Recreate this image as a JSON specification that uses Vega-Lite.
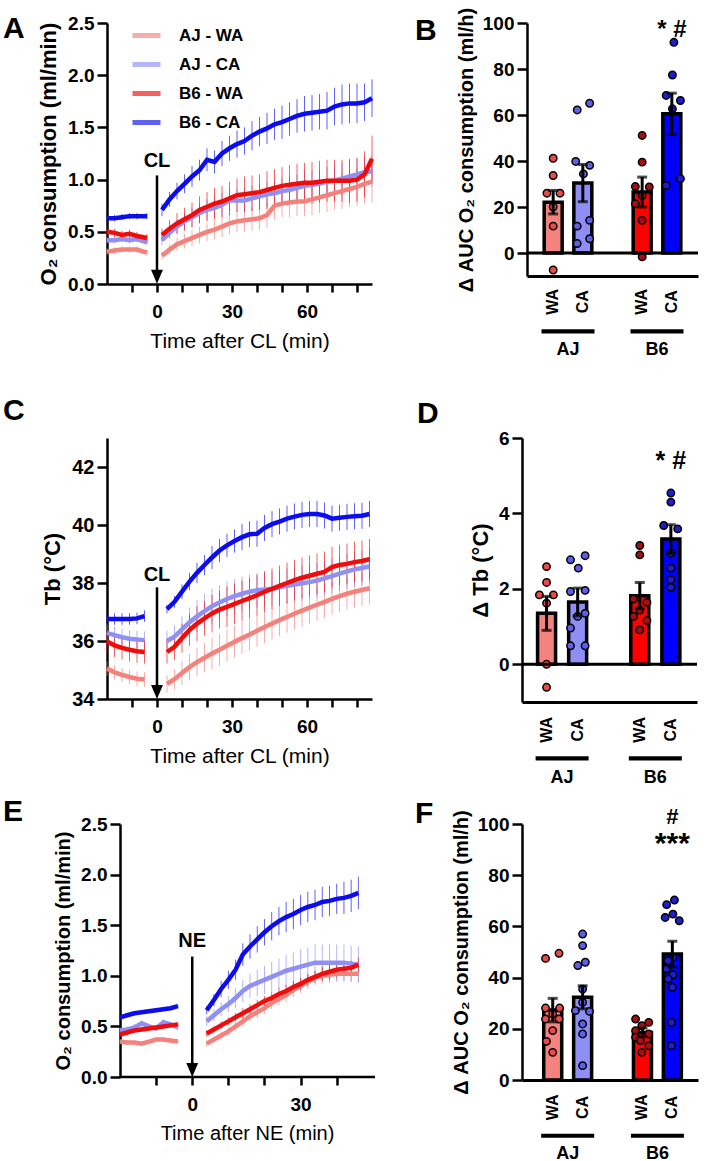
{
"$schema": "https://vega.github.io/schema/vega-lite/v6.json",
"padding": {"left": 3, "top": 7, "right": 0, "bottom": 0},
"datasets": {
"o2cl": [
{"series":"AJ - WA","seg":"pre","t":-20,"mean":0.31,"sem":0.03},{"series":"AJ - WA","seg":"pre","t":-17,"mean":0.32,"sem":0.03},{"series":"AJ - WA","seg":"pre","t":-14,"mean":0.33,"sem":0.03},{"series":"AJ - WA","seg":"pre","t":-11,"mean":0.33,"sem":0.03},{"series":"AJ - WA","seg":"pre","t":-8,"mean":0.33,"sem":0.03},{"series":"AJ - WA","seg":"pre","t":-4,"mean":0.30,"sem":0.03},
{"series":"AJ - WA","seg":"post","t":2,"mean":0.27,"sem":0.04},{"series":"AJ - WA","seg":"post","t":5,"mean":0.33,"sem":0.05},{"series":"AJ - WA","seg":"post","t":8,"mean":0.38,"sem":0.06},{"series":"AJ - WA","seg":"post","t":11,"mean":0.41,"sem":0.07},{"series":"AJ - WA","seg":"post","t":14,"mean":0.44,"sem":0.08},{"series":"AJ - WA","seg":"post","t":17,"mean":0.47,"sem":0.08},{"series":"AJ - WA","seg":"post","t":20,"mean":0.50,"sem":0.09},{"series":"AJ - WA","seg":"post","t":23,"mean":0.52,"sem":0.09},{"series":"AJ - WA","seg":"post","t":26,"mean":0.55,"sem":0.10},{"series":"AJ - WA","seg":"post","t":29,"mean":0.58,"sem":0.10},{"series":"AJ - WA","seg":"post","t":32,"mean":0.60,"sem":0.10},{"series":"AJ - WA","seg":"post","t":35,"mean":0.61,"sem":0.11},{"series":"AJ - WA","seg":"post","t":38,"mean":0.62,"sem":0.11},{"series":"AJ - WA","seg":"post","t":41,"mean":0.63,"sem":0.11},{"series":"AJ - WA","seg":"post","t":44,"mean":0.66,"sem":0.12},{"series":"AJ - WA","seg":"post","t":47,"mean":0.75,"sem":0.13},{"series":"AJ - WA","seg":"post","t":50,"mean":0.77,"sem":0.13},{"series":"AJ - WA","seg":"post","t":53,"mean":0.78,"sem":0.14},{"series":"AJ - WA","seg":"post","t":56,"mean":0.79,"sem":0.14},{"series":"AJ - WA","seg":"post","t":59,"mean":0.79,"sem":0.14},{"series":"AJ - WA","seg":"post","t":62,"mean":0.81,"sem":0.15},{"series":"AJ - WA","seg":"post","t":65,"mean":0.83,"sem":0.15},{"series":"AJ - WA","seg":"post","t":68,"mean":0.85,"sem":0.16},{"series":"AJ - WA","seg":"post","t":71,"mean":0.87,"sem":0.16},{"series":"AJ - WA","seg":"post","t":74,"mean":0.89,"sem":0.17},{"series":"AJ - WA","seg":"post","t":77,"mean":0.91,"sem":0.17},{"series":"AJ - WA","seg":"post","t":80,"mean":0.93,"sem":0.18},{"series":"AJ - WA","seg":"post","t":83,"mean":0.96,"sem":0.19},{"series":"AJ - WA","seg":"post","t":86,"mean":0.98,"sem":0.20},
{"series":"AJ - CA","seg":"pre","t":-20,"mean":0.42,"sem":0.03},{"series":"AJ - CA","seg":"pre","t":-17,"mean":0.42,"sem":0.03},{"series":"AJ - CA","seg":"pre","t":-14,"mean":0.43,"sem":0.03},{"series":"AJ - CA","seg":"pre","t":-11,"mean":0.42,"sem":0.03},{"series":"AJ - CA","seg":"pre","t":-8,"mean":0.43,"sem":0.03},{"series":"AJ - CA","seg":"pre","t":-4,"mean":0.40,"sem":0.03},
{"series":"AJ - CA","seg":"post","t":2,"mean":0.42,"sem":0.05},{"series":"AJ - CA","seg":"post","t":5,"mean":0.49,"sem":0.06},{"series":"AJ - CA","seg":"post","t":8,"mean":0.55,"sem":0.07},{"series":"AJ - CA","seg":"post","t":11,"mean":0.60,"sem":0.08},{"series":"AJ - CA","seg":"post","t":14,"mean":0.64,"sem":0.09},{"series":"AJ - CA","seg":"post","t":17,"mean":0.68,"sem":0.09},{"series":"AJ - CA","seg":"post","t":20,"mean":0.71,"sem":0.10},{"series":"AJ - CA","seg":"post","t":23,"mean":0.73,"sem":0.10},{"series":"AJ - CA","seg":"post","t":26,"mean":0.76,"sem":0.11},{"series":"AJ - CA","seg":"post","t":29,"mean":0.80,"sem":0.11},{"series":"AJ - CA","seg":"post","t":32,"mean":0.80,"sem":0.11},{"series":"AJ - CA","seg":"post","t":35,"mean":0.80,"sem":0.12},{"series":"AJ - CA","seg":"post","t":38,"mean":0.82,"sem":0.12},{"series":"AJ - CA","seg":"post","t":41,"mean":0.84,"sem":0.12},{"series":"AJ - CA","seg":"post","t":44,"mean":0.86,"sem":0.12},{"series":"AJ - CA","seg":"post","t":47,"mean":0.87,"sem":0.13},{"series":"AJ - CA","seg":"post","t":50,"mean":0.89,"sem":0.13},{"series":"AJ - CA","seg":"post","t":53,"mean":0.90,"sem":0.13},{"series":"AJ - CA","seg":"post","t":56,"mean":0.92,"sem":0.13},{"series":"AJ - CA","seg":"post","t":59,"mean":0.94,"sem":0.14},{"series":"AJ - CA","seg":"post","t":62,"mean":0.95,"sem":0.14},{"series":"AJ - CA","seg":"post","t":65,"mean":0.96,"sem":0.14},{"series":"AJ - CA","seg":"post","t":68,"mean":0.98,"sem":0.14},{"series":"AJ - CA","seg":"post","t":71,"mean":0.99,"sem":0.14},{"series":"AJ - CA","seg":"post","t":74,"mean":1.01,"sem":0.15},{"series":"AJ - CA","seg":"post","t":77,"mean":1.03,"sem":0.15},{"series":"AJ - CA","seg":"post","t":80,"mean":1.05,"sem":0.15},{"series":"AJ - CA","seg":"post","t":83,"mean":1.07,"sem":0.15},{"series":"AJ - CA","seg":"post","t":86,"mean":1.08,"sem":0.15},
{"series":"B6 - WA","seg":"pre","t":-20,"mean":0.50,"sem":0.04},{"series":"B6 - WA","seg":"pre","t":-17,"mean":0.49,"sem":0.04},{"series":"B6 - WA","seg":"pre","t":-14,"mean":0.47,"sem":0.04},{"series":"B6 - WA","seg":"pre","t":-11,"mean":0.48,"sem":0.04},{"series":"B6 - WA","seg":"pre","t":-8,"mean":0.46,"sem":0.04},{"series":"B6 - WA","seg":"pre","t":-4,"mean":0.44,"sem":0.04},
{"series":"B6 - WA","seg":"post","t":2,"mean":0.47,"sem":0.06},{"series":"B6 - WA","seg":"post","t":5,"mean":0.53,"sem":0.08},{"series":"B6 - WA","seg":"post","t":8,"mean":0.58,"sem":0.10},{"series":"B6 - WA","seg":"post","t":11,"mean":0.62,"sem":0.11},{"series":"B6 - WA","seg":"post","t":14,"mean":0.66,"sem":0.12},{"series":"B6 - WA","seg":"post","t":17,"mean":0.71,"sem":0.13},{"series":"B6 - WA","seg":"post","t":20,"mean":0.74,"sem":0.14},{"series":"B6 - WA","seg":"post","t":23,"mean":0.77,"sem":0.15},{"series":"B6 - WA","seg":"post","t":26,"mean":0.79,"sem":0.15},{"series":"B6 - WA","seg":"post","t":29,"mean":0.82,"sem":0.16},{"series":"B6 - WA","seg":"post","t":32,"mean":0.85,"sem":0.16},{"series":"B6 - WA","seg":"post","t":35,"mean":0.86,"sem":0.17},{"series":"B6 - WA","seg":"post","t":38,"mean":0.87,"sem":0.17},{"series":"B6 - WA","seg":"post","t":41,"mean":0.88,"sem":0.17},{"series":"B6 - WA","seg":"post","t":44,"mean":0.90,"sem":0.18},{"series":"B6 - WA","seg":"post","t":47,"mean":0.92,"sem":0.18},{"series":"B6 - WA","seg":"post","t":50,"mean":0.94,"sem":0.18},{"series":"B6 - WA","seg":"post","t":53,"mean":0.95,"sem":0.19},{"series":"B6 - WA","seg":"post","t":56,"mean":0.96,"sem":0.19},{"series":"B6 - WA","seg":"post","t":59,"mean":0.97,"sem":0.19},{"series":"B6 - WA","seg":"post","t":62,"mean":0.97,"sem":0.20},{"series":"B6 - WA","seg":"post","t":65,"mean":0.98,"sem":0.20},{"series":"B6 - WA","seg":"post","t":68,"mean":0.99,"sem":0.20},{"series":"B6 - WA","seg":"post","t":71,"mean":0.99,"sem":0.20},{"series":"B6 - WA","seg":"post","t":74,"mean":0.99,"sem":0.20},{"series":"B6 - WA","seg":"post","t":77,"mean":0.99,"sem":0.21},{"series":"B6 - WA","seg":"post","t":80,"mean":1.00,"sem":0.21},{"series":"B6 - WA","seg":"post","t":83,"mean":1.05,"sem":0.22},{"series":"B6 - WA","seg":"post","t":86,"mean":1.20,"sem":0.22},
{"series":"B6 - CA","seg":"pre","t":-20,"mean":0.63,"sem":0.03},{"series":"B6 - CA","seg":"pre","t":-17,"mean":0.63,"sem":0.03},{"series":"B6 - CA","seg":"pre","t":-14,"mean":0.64,"sem":0.03},{"series":"B6 - CA","seg":"pre","t":-11,"mean":0.65,"sem":0.03},{"series":"B6 - CA","seg":"pre","t":-8,"mean":0.65,"sem":0.03},{"series":"B6 - CA","seg":"pre","t":-4,"mean":0.65,"sem":0.03},
{"series":"B6 - CA","seg":"post","t":2,"mean":0.71,"sem":0.06},{"series":"B6 - CA","seg":"post","t":5,"mean":0.81,"sem":0.07},{"series":"B6 - CA","seg":"post","t":8,"mean":0.89,"sem":0.08},{"series":"B6 - CA","seg":"post","t":11,"mean":0.96,"sem":0.09},{"series":"B6 - CA","seg":"post","t":14,"mean":1.03,"sem":0.10},{"series":"B6 - CA","seg":"post","t":17,"mean":1.09,"sem":0.10},{"series":"B6 - CA","seg":"post","t":20,"mean":1.19,"sem":0.11},{"series":"B6 - CA","seg":"post","t":23,"mean":1.17,"sem":0.11},{"series":"B6 - CA","seg":"post","t":26,"mean":1.25,"sem":0.12},{"series":"B6 - CA","seg":"post","t":29,"mean":1.30,"sem":0.12},{"series":"B6 - CA","seg":"post","t":32,"mean":1.34,"sem":0.13},{"series":"B6 - CA","seg":"post","t":35,"mean":1.37,"sem":0.13},{"series":"B6 - CA","seg":"post","t":38,"mean":1.42,"sem":0.14},{"series":"B6 - CA","seg":"post","t":41,"mean":1.46,"sem":0.14},{"series":"B6 - CA","seg":"post","t":44,"mean":1.49,"sem":0.15},{"series":"B6 - CA","seg":"post","t":47,"mean":1.53,"sem":0.15},{"series":"B6 - CA","seg":"post","t":50,"mean":1.55,"sem":0.16},{"series":"B6 - CA","seg":"post","t":53,"mean":1.58,"sem":0.16},{"series":"B6 - CA","seg":"post","t":56,"mean":1.61,"sem":0.16},{"series":"B6 - CA","seg":"post","t":59,"mean":1.63,"sem":0.17},{"series":"B6 - CA","seg":"post","t":62,"mean":1.64,"sem":0.17},{"series":"B6 - CA","seg":"post","t":65,"mean":1.65,"sem":0.17},{"series":"B6 - CA","seg":"post","t":68,"mean":1.66,"sem":0.18},{"series":"B6 - CA","seg":"post","t":71,"mean":1.70,"sem":0.18},{"series":"B6 - CA","seg":"post","t":74,"mean":1.72,"sem":0.19},{"series":"B6 - CA","seg":"post","t":77,"mean":1.73,"sem":0.19},{"series":"B6 - CA","seg":"post","t":80,"mean":1.73,"sem":0.19},{"series":"B6 - CA","seg":"post","t":83,"mean":1.74,"sem":0.18},{"series":"B6 - CA","seg":"post","t":86,"mean":1.78,"sem":0.18}
],
"tbcl": [
{"series":"AJ - WA","seg":"pre","t":-20,"mean":35.05,"sem":0.25},{"series":"AJ - WA","seg":"pre","t":-17,"mean":34.92,"sem":0.25},{"series":"AJ - WA","seg":"pre","t":-14,"mean":34.83,"sem":0.25},{"series":"AJ - WA","seg":"pre","t":-11,"mean":34.76,"sem":0.25},{"series":"AJ - WA","seg":"pre","t":-8,"mean":34.70,"sem":0.25},{"series":"AJ - WA","seg":"pre","t":-5,"mean":34.67,"sem":0.25},
{"series":"AJ - WA","seg":"post","t":4,"mean":34.52,"sem":0.30},{"series":"AJ - WA","seg":"post","t":7,"mean":34.68,"sem":0.35},{"series":"AJ - WA","seg":"post","t":10,"mean":34.90,"sem":0.40},{"series":"AJ - WA","seg":"post","t":13,"mean":35.10,"sem":0.45},{"series":"AJ - WA","seg":"post","t":16,"mean":35.27,"sem":0.50},{"series":"AJ - WA","seg":"post","t":19,"mean":35.42,"sem":0.50},{"series":"AJ - WA","seg":"post","t":22,"mean":35.57,"sem":0.55},{"series":"AJ - WA","seg":"post","t":25,"mean":35.70,"sem":0.55},{"series":"AJ - WA","seg":"post","t":28,"mean":35.84,"sem":0.55},{"series":"AJ - WA","seg":"post","t":31,"mean":35.97,"sem":0.55},{"series":"AJ - WA","seg":"post","t":34,"mean":36.10,"sem":0.55},{"series":"AJ - WA","seg":"post","t":37,"mean":36.22,"sem":0.55},{"series":"AJ - WA","seg":"post","t":40,"mean":36.35,"sem":0.55},{"series":"AJ - WA","seg":"post","t":43,"mean":36.48,"sem":0.55},{"series":"AJ - WA","seg":"post","t":46,"mean":36.60,"sem":0.55},{"series":"AJ - WA","seg":"post","t":49,"mean":36.72,"sem":0.55},{"series":"AJ - WA","seg":"post","t":52,"mean":36.83,"sem":0.55},{"series":"AJ - WA","seg":"post","t":55,"mean":36.95,"sem":0.55},{"series":"AJ - WA","seg":"post","t":58,"mean":37.05,"sem":0.55},{"series":"AJ - WA","seg":"post","t":61,"mean":37.15,"sem":0.55},{"series":"AJ - WA","seg":"post","t":64,"mean":37.25,"sem":0.55},{"series":"AJ - WA","seg":"post","t":67,"mean":37.35,"sem":0.55},{"series":"AJ - WA","seg":"post","t":70,"mean":37.45,"sem":0.55},{"series":"AJ - WA","seg":"post","t":73,"mean":37.55,"sem":0.55},{"series":"AJ - WA","seg":"post","t":76,"mean":37.63,"sem":0.55},{"series":"AJ - WA","seg":"post","t":79,"mean":37.70,"sem":0.55},{"series":"AJ - WA","seg":"post","t":82,"mean":37.76,"sem":0.55},{"series":"AJ - WA","seg":"post","t":85,"mean":37.82,"sem":0.55},
{"series":"AJ - CA","seg":"pre","t":-20,"mean":36.28,"sem":0.3},{"series":"AJ - CA","seg":"pre","t":-17,"mean":36.20,"sem":0.3},{"series":"AJ - CA","seg":"pre","t":-14,"mean":36.13,"sem":0.3},{"series":"AJ - CA","seg":"pre","t":-11,"mean":36.08,"sem":0.3},{"series":"AJ - CA","seg":"pre","t":-8,"mean":36.05,"sem":0.3},{"series":"AJ - CA","seg":"pre","t":-5,"mean":36.03,"sem":0.3},
{"series":"AJ - CA","seg":"post","t":4,"mean":36.00,"sem":0.35},{"series":"AJ - CA","seg":"post","t":7,"mean":36.15,"sem":0.40},{"series":"AJ - CA","seg":"post","t":10,"mean":36.40,"sem":0.45},{"series":"AJ - CA","seg":"post","t":13,"mean":36.65,"sem":0.50},{"series":"AJ - CA","seg":"post","t":16,"mean":36.85,"sem":0.55},{"series":"AJ - CA","seg":"post","t":19,"mean":37.03,"sem":0.60},{"series":"AJ - CA","seg":"post","t":22,"mean":37.20,"sem":0.60},{"series":"AJ - CA","seg":"post","t":25,"mean":37.33,"sem":0.60},{"series":"AJ - CA","seg":"post","t":28,"mean":37.45,"sem":0.60},{"series":"AJ - CA","seg":"post","t":31,"mean":37.55,"sem":0.60},{"series":"AJ - CA","seg":"post","t":34,"mean":37.63,"sem":0.60},{"series":"AJ - CA","seg":"post","t":37,"mean":37.70,"sem":0.60},{"series":"AJ - CA","seg":"post","t":40,"mean":37.75,"sem":0.60},{"series":"AJ - CA","seg":"post","t":43,"mean":37.78,"sem":0.60},{"series":"AJ - CA","seg":"post","t":46,"mean":37.80,"sem":0.60},{"series":"AJ - CA","seg":"post","t":49,"mean":37.85,"sem":0.60},{"series":"AJ - CA","seg":"post","t":52,"mean":37.90,"sem":0.60},{"series":"AJ - CA","seg":"post","t":55,"mean":37.95,"sem":0.60},{"series":"AJ - CA","seg":"post","t":58,"mean":37.99,"sem":0.60},{"series":"AJ - CA","seg":"post","t":61,"mean":38.03,"sem":0.60},{"series":"AJ - CA","seg":"post","t":64,"mean":38.08,"sem":0.60},{"series":"AJ - CA","seg":"post","t":67,"mean":38.16,"sem":0.60},{"series":"AJ - CA","seg":"post","t":70,"mean":38.24,"sem":0.60},{"series":"AJ - CA","seg":"post","t":73,"mean":38.32,"sem":0.60},{"series":"AJ - CA","seg":"post","t":76,"mean":38.40,"sem":0.60},{"series":"AJ - CA","seg":"post","t":79,"mean":38.47,"sem":0.60},{"series":"AJ - CA","seg":"post","t":82,"mean":38.52,"sem":0.60},{"series":"AJ - CA","seg":"post","t":85,"mean":38.57,"sem":0.60},
{"series":"B6 - WA","seg":"pre","t":-20,"mean":35.98,"sem":0.4},{"series":"B6 - WA","seg":"pre","t":-17,"mean":35.85,"sem":0.4},{"series":"B6 - WA","seg":"pre","t":-14,"mean":35.76,"sem":0.4},{"series":"B6 - WA","seg":"pre","t":-11,"mean":35.70,"sem":0.4},{"series":"B6 - WA","seg":"pre","t":-8,"mean":35.65,"sem":0.4},{"series":"B6 - WA","seg":"pre","t":-5,"mean":35.62,"sem":0.4},
{"series":"B6 - WA","seg":"post","t":4,"mean":35.62,"sem":0.40},{"series":"B6 - WA","seg":"post","t":7,"mean":35.80,"sem":0.45},{"series":"B6 - WA","seg":"post","t":10,"mean":36.10,"sem":0.50},{"series":"B6 - WA","seg":"post","t":13,"mean":36.38,"sem":0.55},{"series":"B6 - WA","seg":"post","t":16,"mean":36.60,"sem":0.60},{"series":"B6 - WA","seg":"post","t":19,"mean":36.78,"sem":0.60},{"series":"B6 - WA","seg":"post","t":22,"mean":36.95,"sem":0.65},{"series":"B6 - WA","seg":"post","t":25,"mean":37.08,"sem":0.65},{"series":"B6 - WA","seg":"post","t":28,"mean":37.18,"sem":0.70},{"series":"B6 - WA","seg":"post","t":31,"mean":37.28,"sem":0.70},{"series":"B6 - WA","seg":"post","t":34,"mean":37.38,"sem":0.70},{"series":"B6 - WA","seg":"post","t":37,"mean":37.48,"sem":0.70},{"series":"B6 - WA","seg":"post","t":40,"mean":37.58,"sem":0.70},{"series":"B6 - WA","seg":"post","t":43,"mean":37.70,"sem":0.70},{"series":"B6 - WA","seg":"post","t":46,"mean":37.80,"sem":0.70},{"series":"B6 - WA","seg":"post","t":49,"mean":37.90,"sem":0.70},{"series":"B6 - WA","seg":"post","t":52,"mean":38.00,"sem":0.70},{"series":"B6 - WA","seg":"post","t":55,"mean":38.10,"sem":0.70},{"series":"B6 - WA","seg":"post","t":58,"mean":38.18,"sem":0.70},{"series":"B6 - WA","seg":"post","t":61,"mean":38.25,"sem":0.70},{"series":"B6 - WA","seg":"post","t":64,"mean":38.32,"sem":0.70},{"series":"B6 - WA","seg":"post","t":67,"mean":38.38,"sem":0.70},{"series":"B6 - WA","seg":"post","t":70,"mean":38.55,"sem":0.70},{"series":"B6 - WA","seg":"post","t":73,"mean":38.62,"sem":0.70},{"series":"B6 - WA","seg":"post","t":76,"mean":38.66,"sem":0.70},{"series":"B6 - WA","seg":"post","t":79,"mean":38.72,"sem":0.70},{"series":"B6 - WA","seg":"post","t":82,"mean":38.76,"sem":0.70},{"series":"B6 - WA","seg":"post","t":85,"mean":38.82,"sem":0.70},
{"series":"B6 - CA","seg":"pre","t":-20,"mean":36.76,"sem":0.2},{"series":"B6 - CA","seg":"pre","t":-17,"mean":36.76,"sem":0.2},{"series":"B6 - CA","seg":"pre","t":-14,"mean":36.76,"sem":0.2},{"series":"B6 - CA","seg":"pre","t":-11,"mean":36.76,"sem":0.2},{"series":"B6 - CA","seg":"pre","t":-8,"mean":36.78,"sem":0.2},{"series":"B6 - CA","seg":"pre","t":-5,"mean":36.86,"sem":0.2},
{"series":"B6 - CA","seg":"post","t":4,"mean":37.10,"sem":0.15},{"series":"B6 - CA","seg":"post","t":7,"mean":37.35,"sem":0.20},{"series":"B6 - CA","seg":"post","t":10,"mean":37.70,"sem":0.25},{"series":"B6 - CA","seg":"post","t":13,"mean":38.05,"sem":0.30},{"series":"B6 - CA","seg":"post","t":16,"mean":38.35,"sem":0.35},{"series":"B6 - CA","seg":"post","t":19,"mean":38.62,"sem":0.35},{"series":"B6 - CA","seg":"post","t":22,"mean":38.88,"sem":0.40},{"series":"B6 - CA","seg":"post","t":25,"mean":39.12,"sem":0.40},{"series":"B6 - CA","seg":"post","t":28,"mean":39.30,"sem":0.40},{"series":"B6 - CA","seg":"post","t":31,"mean":39.45,"sem":0.40},{"series":"B6 - CA","seg":"post","t":34,"mean":39.58,"sem":0.45},{"series":"B6 - CA","seg":"post","t":37,"mean":39.68,"sem":0.45},{"series":"B6 - CA","seg":"post","t":40,"mean":39.70,"sem":0.45},{"series":"B6 - CA","seg":"post","t":43,"mean":39.90,"sem":0.45},{"series":"B6 - CA","seg":"post","t":46,"mean":40.03,"sem":0.45},{"series":"B6 - CA","seg":"post","t":49,"mean":40.12,"sem":0.45},{"series":"B6 - CA","seg":"post","t":52,"mean":40.22,"sem":0.45},{"series":"B6 - CA","seg":"post","t":55,"mean":40.29,"sem":0.45},{"series":"B6 - CA","seg":"post","t":58,"mean":40.35,"sem":0.45},{"series":"B6 - CA","seg":"post","t":61,"mean":40.38,"sem":0.45},{"series":"B6 - CA","seg":"post","t":64,"mean":40.38,"sem":0.45},{"series":"B6 - CA","seg":"post","t":67,"mean":40.33,"sem":0.45},{"series":"B6 - CA","seg":"post","t":70,"mean":40.22,"sem":0.45},{"series":"B6 - CA","seg":"post","t":73,"mean":40.25,"sem":0.45},{"series":"B6 - CA","seg":"post","t":76,"mean":40.28,"sem":0.45},{"series":"B6 - CA","seg":"post","t":79,"mean":40.30,"sem":0.45},{"series":"B6 - CA","seg":"post","t":82,"mean":40.32,"sem":0.45},{"series":"B6 - CA","seg":"post","t":85,"mean":40.38,"sem":0.45}
],
"o2ne": [
{"series":"AJ - WA","seg":"pre","t":-20,"mean":0.35,"sem":0.02},{"series":"AJ - WA","seg":"pre","t":-18,"mean":0.34,"sem":0.02},{"series":"AJ - WA","seg":"pre","t":-16,"mean":0.34,"sem":0.02},{"series":"AJ - WA","seg":"pre","t":-14,"mean":0.33,"sem":0.02},{"series":"AJ - WA","seg":"pre","t":-12,"mean":0.35,"sem":0.02},{"series":"AJ - WA","seg":"pre","t":-10,"mean":0.37,"sem":0.02},{"series":"AJ - WA","seg":"pre","t":-8,"mean":0.37,"sem":0.02},{"series":"AJ - WA","seg":"pre","t":-6,"mean":0.36,"sem":0.02},{"series":"AJ - WA","seg":"pre","t":-4,"mean":0.35,"sem":0.02},
{"series":"AJ - WA","seg":"post","t":4,"mean":0.33,"sem":0.03},{"series":"AJ - WA","seg":"post","t":6,"mean":0.37,"sem":0.03},{"series":"AJ - WA","seg":"post","t":8,"mean":0.41,"sem":0.04},{"series":"AJ - WA","seg":"post","t":10,"mean":0.45,"sem":0.04},{"series":"AJ - WA","seg":"post","t":12,"mean":0.50,"sem":0.05},{"series":"AJ - WA","seg":"post","t":14,"mean":0.55,"sem":0.05},{"series":"AJ - WA","seg":"post","t":16,"mean":0.60,"sem":0.05},{"series":"AJ - WA","seg":"post","t":18,"mean":0.64,"sem":0.06},{"series":"AJ - WA","seg":"post","t":20,"mean":0.68,"sem":0.06},{"series":"AJ - WA","seg":"post","t":22,"mean":0.73,"sem":0.06},{"series":"AJ - WA","seg":"post","t":24,"mean":0.77,"sem":0.06},{"series":"AJ - WA","seg":"post","t":26,"mean":0.81,"sem":0.07},{"series":"AJ - WA","seg":"post","t":28,"mean":0.86,"sem":0.07},{"series":"AJ - WA","seg":"post","t":30,"mean":0.90,"sem":0.07},{"series":"AJ - WA","seg":"post","t":32,"mean":0.94,"sem":0.07},{"series":"AJ - WA","seg":"post","t":34,"mean":0.98,"sem":0.07},{"series":"AJ - WA","seg":"post","t":36,"mean":1.00,"sem":0.08},{"series":"AJ - WA","seg":"post","t":38,"mean":1.01,"sem":0.08},{"series":"AJ - WA","seg":"post","t":40,"mean":1.02,"sem":0.08},{"series":"AJ - WA","seg":"post","t":42,"mean":1.02,"sem":0.08},{"series":"AJ - WA","seg":"post","t":44,"mean":1.02,"sem":0.08},{"series":"AJ - WA","seg":"post","t":46,"mean":1.02,"sem":0.08},
{"series":"AJ - CA","seg":"pre","t":-20,"mean":0.46,"sem":0.03},{"series":"AJ - CA","seg":"pre","t":-18,"mean":0.47,"sem":0.03},{"series":"AJ - CA","seg":"pre","t":-16,"mean":0.49,"sem":0.03},{"series":"AJ - CA","seg":"pre","t":-14,"mean":0.53,"sem":0.03},{"series":"AJ - CA","seg":"pre","t":-12,"mean":0.50,"sem":0.03},{"series":"AJ - CA","seg":"pre","t":-10,"mean":0.48,"sem":0.03},{"series":"AJ - CA","seg":"pre","t":-8,"mean":0.54,"sem":0.03},{"series":"AJ - CA","seg":"pre","t":-6,"mean":0.52,"sem":0.03},{"series":"AJ - CA","seg":"pre","t":-4,"mean":0.49,"sem":0.03},
{"series":"AJ - CA","seg":"post","t":4,"mean":0.55,"sem":0.05},{"series":"AJ - CA","seg":"post","t":6,"mean":0.61,"sem":0.06},{"series":"AJ - CA","seg":"post","t":8,"mean":0.67,"sem":0.07},{"series":"AJ - CA","seg":"post","t":10,"mean":0.72,"sem":0.08},{"series":"AJ - CA","seg":"post","t":12,"mean":0.78,"sem":0.10},{"series":"AJ - CA","seg":"post","t":14,"mean":0.85,"sem":0.11},{"series":"AJ - CA","seg":"post","t":16,"mean":0.90,"sem":0.12},{"series":"AJ - CA","seg":"post","t":18,"mean":0.93,"sem":0.13},{"series":"AJ - CA","seg":"post","t":20,"mean":0.96,"sem":0.14},{"series":"AJ - CA","seg":"post","t":22,"mean":0.99,"sem":0.15},{"series":"AJ - CA","seg":"post","t":24,"mean":1.02,"sem":0.15},{"series":"AJ - CA","seg":"post","t":26,"mean":1.05,"sem":0.16},{"series":"AJ - CA","seg":"post","t":28,"mean":1.07,"sem":0.16},{"series":"AJ - CA","seg":"post","t":30,"mean":1.09,"sem":0.17},{"series":"AJ - CA","seg":"post","t":32,"mean":1.11,"sem":0.17},{"series":"AJ - CA","seg":"post","t":34,"mean":1.13,"sem":0.18},{"series":"AJ - CA","seg":"post","t":36,"mean":1.13,"sem":0.18},{"series":"AJ - CA","seg":"post","t":38,"mean":1.13,"sem":0.18},{"series":"AJ - CA","seg":"post","t":40,"mean":1.13,"sem":0.18},{"series":"AJ - CA","seg":"post","t":42,"mean":1.13,"sem":0.18},{"series":"AJ - CA","seg":"post","t":44,"mean":1.12,"sem":0.18},{"series":"AJ - CA","seg":"post","t":46,"mean":1.11,"sem":0.18},
{"series":"B6 - WA","seg":"pre","t":-20,"mean":0.42,"sem":0.02},{"series":"B6 - WA","seg":"pre","t":-18,"mean":0.44,"sem":0.02},{"series":"B6 - WA","seg":"pre","t":-16,"mean":0.46,"sem":0.02},{"series":"B6 - WA","seg":"pre","t":-14,"mean":0.47,"sem":0.02},{"series":"B6 - WA","seg":"pre","t":-12,"mean":0.48,"sem":0.02},{"series":"B6 - WA","seg":"pre","t":-10,"mean":0.49,"sem":0.02},{"series":"B6 - WA","seg":"pre","t":-8,"mean":0.50,"sem":0.02},{"series":"B6 - WA","seg":"pre","t":-6,"mean":0.51,"sem":0.02},{"series":"B6 - WA","seg":"pre","t":-4,"mean":0.52,"sem":0.02},
{"series":"B6 - WA","seg":"post","t":4,"mean":0.43,"sem":0.03},{"series":"B6 - WA","seg":"post","t":6,"mean":0.47,"sem":0.03},{"series":"B6 - WA","seg":"post","t":8,"mean":0.51,"sem":0.04},{"series":"B6 - WA","seg":"post","t":10,"mean":0.55,"sem":0.04},{"series":"B6 - WA","seg":"post","t":12,"mean":0.59,"sem":0.04},{"series":"B6 - WA","seg":"post","t":14,"mean":0.63,"sem":0.05},{"series":"B6 - WA","seg":"post","t":16,"mean":0.67,"sem":0.05},{"series":"B6 - WA","seg":"post","t":18,"mean":0.71,"sem":0.05},{"series":"B6 - WA","seg":"post","t":20,"mean":0.75,"sem":0.05},{"series":"B6 - WA","seg":"post","t":22,"mean":0.78,"sem":0.06},{"series":"B6 - WA","seg":"post","t":24,"mean":0.82,"sem":0.06},{"series":"B6 - WA","seg":"post","t":26,"mean":0.85,"sem":0.06},{"series":"B6 - WA","seg":"post","t":28,"mean":0.89,"sem":0.06},{"series":"B6 - WA","seg":"post","t":30,"mean":0.92,"sem":0.06},{"series":"B6 - WA","seg":"post","t":32,"mean":0.96,"sem":0.06},{"series":"B6 - WA","seg":"post","t":34,"mean":0.99,"sem":0.06},{"series":"B6 - WA","seg":"post","t":36,"mean":1.02,"sem":0.07},{"series":"B6 - WA","seg":"post","t":38,"mean":1.04,"sem":0.07},{"series":"B6 - WA","seg":"post","t":40,"mean":1.06,"sem":0.07},{"series":"B6 - WA","seg":"post","t":42,"mean":1.07,"sem":0.07},{"series":"B6 - WA","seg":"post","t":44,"mean":1.08,"sem":0.07},{"series":"B6 - WA","seg":"post","t":46,"mean":1.11,"sem":0.07},
{"series":"B6 - CA","seg":"pre","t":-20,"mean":0.59,"sem":0.02},{"series":"B6 - CA","seg":"pre","t":-18,"mean":0.61,"sem":0.02},{"series":"B6 - CA","seg":"pre","t":-16,"mean":0.63,"sem":0.02},{"series":"B6 - CA","seg":"pre","t":-14,"mean":0.64,"sem":0.02},{"series":"B6 - CA","seg":"pre","t":-12,"mean":0.65,"sem":0.02},{"series":"B6 - CA","seg":"pre","t":-10,"mean":0.66,"sem":0.02},{"series":"B6 - CA","seg":"pre","t":-8,"mean":0.67,"sem":0.02},{"series":"B6 - CA","seg":"pre","t":-6,"mean":0.68,"sem":0.02},{"series":"B6 - CA","seg":"pre","t":-4,"mean":0.70,"sem":0.02},
{"series":"B6 - CA","seg":"post","t":4,"mean":0.66,"sem":0.04},{"series":"B6 - CA","seg":"post","t":6,"mean":0.76,"sem":0.06},{"series":"B6 - CA","seg":"post","t":8,"mean":0.87,"sem":0.08},{"series":"B6 - CA","seg":"post","t":10,"mean":0.96,"sem":0.09},{"series":"B6 - CA","seg":"post","t":12,"mean":1.06,"sem":0.10},{"series":"B6 - CA","seg":"post","t":14,"mean":1.21,"sem":0.11},{"series":"B6 - CA","seg":"post","t":16,"mean":1.29,"sem":0.12},{"series":"B6 - CA","seg":"post","t":18,"mean":1.36,"sem":0.13},{"series":"B6 - CA","seg":"post","t":20,"mean":1.43,"sem":0.13},{"series":"B6 - CA","seg":"post","t":22,"mean":1.49,"sem":0.14},{"series":"B6 - CA","seg":"post","t":24,"mean":1.54,"sem":0.14},{"series":"B6 - CA","seg":"post","t":26,"mean":1.58,"sem":0.15},{"series":"B6 - CA","seg":"post","t":28,"mean":1.61,"sem":0.15},{"series":"B6 - CA","seg":"post","t":30,"mean":1.65,"sem":0.15},{"series":"B6 - CA","seg":"post","t":32,"mean":1.68,"sem":0.15},{"series":"B6 - CA","seg":"post","t":34,"mean":1.70,"sem":0.15},{"series":"B6 - CA","seg":"post","t":36,"mean":1.73,"sem":0.15},{"series":"B6 - CA","seg":"post","t":38,"mean":1.74,"sem":0.15},{"series":"B6 - CA","seg":"post","t":40,"mean":1.76,"sem":0.15},{"series":"B6 - CA","seg":"post","t":42,"mean":1.77,"sem":0.16},{"series":"B6 - CA","seg":"post","t":44,"mean":1.79,"sem":0.16},{"series":"B6 - CA","seg":"post","t":46,"mean":1.82,"sem":0.16}
],
"barsB": [
{"strain":"AJ","cond":"WA","group":"AJ - WA","pos":1,"mean":22.1,"sem":5.1,"sig":""},
{"strain":"AJ","cond":"CA","group":"AJ - CA","pos":2,"mean":30.4,"sem":8.1,"sig":""},
{"strain":"B6","cond":"WA","group":"B6 - WA","pos":4,"mean":26.5,"sem":6.5,"sig":""},
{"strain":"B6","cond":"CA","group":"B6 - CA","pos":5,"mean":60.5,"sem":9.0,"sig":"* #"}
],
"dotsB": [
{"group":"AJ - WA","x":1.0,"value":41.2},{"group":"AJ - WA","x":1.0,"value":33.7},{"group":"AJ - WA","x":0.79,"value":26},{"group":"AJ - WA","x":1.23,"value":26},{"group":"AJ - WA","x":1.0,"value":20},{"group":"AJ - WA","x":1.0,"value":11.7},{"group":"AJ - WA","x":1.0,"value":-7.4},
{"group":"AJ - CA","x":1.81,"value":62.2},{"group":"AJ - CA","x":2.23,"value":65.1},{"group":"AJ - CA","x":1.76,"value":39.8},{"group":"AJ - CA","x":2.23,"value":38.1},{"group":"AJ - CA","x":2.02,"value":34.4},{"group":"AJ - CA","x":2.23,"value":14.2},{"group":"AJ - CA","x":1.81,"value":11.7},{"group":"AJ - CA","x":2.23,"value":6.2},{"group":"AJ - CA","x":1.81,"value":4.1},
{"group":"B6 - WA","x":4.0,"value":51.1},{"group":"B6 - WA","x":4.0,"value":39.5},{"group":"B6 - WA","x":3.77,"value":28.9},{"group":"B6 - WA","x":4.24,"value":28.7},{"group":"B6 - WA","x":4.0,"value":25},{"group":"B6 - WA","x":3.77,"value":21.4},{"group":"B6 - WA","x":4.0,"value":14.2},{"group":"B6 - WA","x":4.0,"value":-1.7},
{"group":"B6 - CA","x":5.07,"value":91.6},{"group":"B6 - CA","x":5.02,"value":77.4},{"group":"B6 - CA","x":4.81,"value":68.5},{"group":"B6 - CA","x":5.29,"value":66.3},{"group":"B6 - CA","x":5.02,"value":62.7},{"group":"B6 - CA","x":4.81,"value":29.4},{"group":"B6 - CA","x":5.29,"value":32.3}
],
"barsD": [
{"strain":"AJ","cond":"WA","group":"AJ - WA","pos":1,"mean":1.35,"sem":0.45,"sig":""},
{"strain":"AJ","cond":"CA","group":"AJ - CA","pos":2,"mean":1.65,"sem":0.37,"sig":""},
{"strain":"B6","cond":"WA","group":"B6 - WA","pos":4,"mean":1.82,"sem":0.35,"sig":""},
{"strain":"B6","cond":"CA","group":"B6 - CA","pos":5,"mean":3.32,"sem":0.38,"sig":"* #"}
],
"dotsD": [
{"group":"AJ - WA","x":1.0,"value":2.59},{"group":"AJ - WA","x":1.0,"value":2.17},{"group":"AJ - WA","x":0.77,"value":1.84},{"group":"AJ - WA","x":1.22,"value":1.84},{"group":"AJ - WA","x":1.0,"value":1.62},{"group":"AJ - WA","x":1.0,"value":0.0},{"group":"AJ - WA","x":1.0,"value":-0.61},
{"group":"AJ - CA","x":1.77,"value":2.77},{"group":"AJ - CA","x":2.02,"value":2.55},{"group":"AJ - CA","x":2.24,"value":2.88},{"group":"AJ - CA","x":1.77,"value":1.93},{"group":"AJ - CA","x":2.24,"value":1.96},{"group":"AJ - CA","x":2.0,"value":1.27},{"group":"AJ - CA","x":1.77,"value":0.96},{"group":"AJ - CA","x":2.24,"value":1.35},{"group":"AJ - CA","x":1.77,"value":0.49},{"group":"AJ - CA","x":2.24,"value":0.49},
{"group":"B6 - WA","x":4.0,"value":3.15},{"group":"B6 - WA","x":4.0,"value":2.90},{"group":"B6 - WA","x":3.8,"value":1.73},{"group":"B6 - WA","x":4.23,"value":1.64},{"group":"B6 - WA","x":4.0,"value":1.44},{"group":"B6 - WA","x":4.23,"value":1.16},{"group":"B6 - WA","x":4.0,"value":0.91},{"group":"B6 - WA","x":3.8,"value":1.27},
{"group":"B6 - CA","x":5.0,"value":4.54},{"group":"B6 - CA","x":5.0,"value":4.30},{"group":"B6 - CA","x":4.77,"value":3.68},{"group":"B6 - CA","x":5.22,"value":3.59},{"group":"B6 - CA","x":5.0,"value":2.95},{"group":"B6 - CA","x":5.0,"value":2.55},{"group":"B6 - CA","x":5.0,"value":2.24},{"group":"B6 - CA","x":5.0,"value":2.04}
],
"barsF": [
{"strain":"AJ","cond":"WA","group":"AJ - WA","pos":1,"mean":27.3,"sem":4.6,"sig":"","sig2":""},
{"strain":"AJ","cond":"CA","group":"AJ - CA","pos":2,"mean":32.3,"sem":4.5,"sig":"","sig2":""},
{"strain":"B6","cond":"WA","group":"B6 - WA","pos":4,"mean":18.6,"sem":1.7,"sig":"","sig2":""},
{"strain":"B6","cond":"CA","group":"B6 - CA","pos":5,"mean":49.2,"sem":5.0,"sig":"#","sig2":"***"}
],
"dotsF": [
{"group":"AJ - WA","x":0.76,"value":47.5},{"group":"AJ - WA","x":1.21,"value":49.5},{"group":"AJ - WA","x":0.76,"value":28.1},{"group":"AJ - WA","x":1.23,"value":28.1},{"group":"AJ - WA","x":1.0,"value":25.8},{"group":"AJ - WA","x":0.76,"value":23.8},{"group":"AJ - WA","x":1.21,"value":23.8},{"group":"AJ - WA","x":1.0,"value":19.3},{"group":"AJ - WA","x":0.79,"value":15.1},{"group":"AJ - WA","x":1.0,"value":10.8},
{"group":"AJ - CA","x":2.0,"value":57.0},{"group":"AJ - CA","x":2.0,"value":52.5},{"group":"AJ - CA","x":2.09,"value":46.0},{"group":"AJ - CA","x":1.84,"value":44.7},{"group":"AJ - CA","x":2.0,"value":35.5},{"group":"AJ - CA","x":2.0,"value":30.3},{"group":"AJ - CA","x":1.76,"value":27.1},{"group":"AJ - CA","x":2.23,"value":26.8},{"group":"AJ - CA","x":2.0,"value":21.9},{"group":"AJ - CA","x":2.0,"value":18.0},{"group":"AJ - CA","x":2.0,"value":5.6},
{"group":"B6 - WA","x":3.77,"value":23.8},{"group":"B6 - WA","x":4.21,"value":22.5},{"group":"B6 - WA","x":3.98,"value":21.2},{"group":"B6 - WA","x":3.77,"value":19.3},{"group":"B6 - WA","x":4.21,"value":18.0},{"group":"B6 - WA","x":3.77,"value":16.7},{"group":"B6 - WA","x":3.93,"value":15.4},{"group":"B6 - WA","x":4.21,"value":13.4},{"group":"B6 - WA","x":3.98,"value":10.8},
{"group":"B6 - CA","x":5.07,"value":70.3},{"group":"B6 - CA","x":4.81,"value":68.5},{"group":"B6 - CA","x":4.76,"value":63.5},{"group":"B6 - CA","x":5.02,"value":64.8},{"group":"B6 - CA","x":5.23,"value":62.2},{"group":"B6 - CA","x":5.02,"value":47.9},{"group":"B6 - CA","x":4.86,"value":46.6},{"group":"B6 - CA","x":4.81,"value":43.4},{"group":"B6 - CA","x":5.02,"value":41.1},{"group":"B6 - CA","x":4.86,"value":39.5},{"group":"B6 - CA","x":5.0,"value":36.2},{"group":"B6 - CA","x":4.97,"value":22.5},{"group":"B6 - CA","x":4.97,"value":13.4}
]
},
"spacing": 36,
"vconcat": [
{"hconcat": [
 {"width": 265, "height": 261,
  "title": {"text": "A", "dx": -104, "dy": 34},
  "layer": [
   {"data": {"name": "o2cl"}, "mark": {"type": "errorbar", "thickness": 1, "opacity": 0.65},
    "encoding": {
     "x": {"field": "t", "type": "quantitative", "title": "Time after CL (min)", "scale": {"domain": [-20, 86], "nice": false, "zero": false},
       "axis": {"values": [-10,0,10,20,30,40,50,60,70,80], "tickCount": 30, "format": "d", "labelExpr": "datum.value % 30 === 0 ? datum.label : ''", "labelOverlap": false, "labelFlush": false, "tickSize": 8, "labelPadding": 10, "titlePadding": 9}},
     "y": {"field": "mean", "type": "quantitative", "title": "O₂ consumption (ml/min)", "scale": {"domain": [0, 2.5], "nice": false},
       "axis": {"values": [0,0.5,1,1.5,2,2.5], "tickCount": 30, "format": ".1f", "titleFontSize": 22, "titlePadding": 7}},
     "yError": {"field": "sem"},
     "color": {"field": "series", "type": "nominal", "scale": {"domain": ["AJ - WA","AJ - CA","B6 - WA","B6 - CA"], "range": ["#F4817C","#8F8FF4","#EE0C0C","#0C0CEE"]},
       "legend": {"title": null, "legendX": 23, "legendY": -4}}}},
   {"data": {"name": "o2cl"}, "mark": {"type": "line", "strokeWidth": 4.5},
    "encoding": {
     "x": {"field": "t", "type": "quantitative", "title": "Time after CL (min)"},
     "y": {"field": "mean", "type": "quantitative", "title": "O₂ consumption (ml/min)"},
     "color": {"field": "series", "type": "nominal", "legend": {"title": null, "legendX": 23, "legendY": -4}},
     "detail": {"field": "seg"}}},
   {"data": {"values": [{"x": 0}]}, "mark": {"type": "rule", "strokeWidth": 2.5, "color": "black"}, "encoding": {"x": {"datum": 0}, "y": {"datum": 1.04}, "y2": {"datum": 0.07}}},
   {"data": {"values": [{"x": 0}]}, "mark": {"type": "point", "shape": "M-0.85,-1L0.85,-1L0,1Z", "filled": true, "color": "black", "opacity": 1, "size": 196, "strokeWidth": 0}, "encoding": {"x": {"datum": 0}, "y": {"datum": 0.07}}},
   {"data": {"values": [{"x": 0}]}, "mark": {"type": "text", "text": "CL", "fontSize": 20, "fontWeight": "bold", "color": "black", "baseline": "middle", "align": "center"}, "encoding": {"x": {"datum": 0}, "y": {"datum": 1.18}}}
  ]},
 {"width": 171, "height": 253,
  "title": {"text": "B", "dx": -112, "dy": 43},
  "layer": [
   {"data": {"name": "barsB"}, "mark": {"type": "bar", "orient": "vertical", "size": 18, "stroke": "black", "strokeWidth": 3.5},
    "encoding": {
     "x": {"field": "pos", "type": "quantitative", "title": null, "scale": {"domain": [0.286, 5.714], "nice": false, "zero": false}, "axis": {"labels": false, "ticks": false, "domainWidth": 3}},
     "y": {"field": "mean", "type": "quantitative", "title": "Δ AUC O₂ consumption (ml/h)", "scale": {"domain": [-10, 100], "nice": false}, "axis": {"values": [0,20,40,60,80,100], "titleFontSize": 20, "titlePadding": 6}},
     "fill": {"field": "group", "type": "nominal", "scale": {"domain": ["AJ - WA","AJ - CA","B6 - WA","B6 - CA"], "range": ["#F4837F","#8E8EF5","#FF0000","#0000FF"]}, "legend": null}}},
   {"data": {"name": "dotsB"}, "mark": {"type": "point", "filled": true, "size": 55, "stroke": "black", "strokeWidth": 1.5, "opacity": 1},
    "encoding": {
     "x": {"field": "x", "type": "quantitative", "title": null},
     "y": {"field": "value", "type": "quantitative", "title": "Δ AUC O₂ consumption (ml/h)"},
     "fill": {"field": "group", "type": "nominal", "scale": {"domain": ["AJ - WA","AJ - CA","B6 - WA","B6 - CA"], "range": ["#EC4A4A","#5E5EEA","#A50F0F","#1E1ECC"]}, "legend": null}}},
   {"data": {"name": "barsB"}, "mark": {"type": "errorbar", "color": "black", "thickness": 3, "ticks": {"size": 10, "thickness": 3, "color": "black"}},
    "encoding": {"x": {"field": "pos", "type": "quantitative", "title": null}, "y": {"field": "mean", "type": "quantitative", "title": "Δ AUC O₂ consumption (ml/h)"}, "yError": {"field": "sem"}}},
   {"data": {"values": [{"y": 0}]}, "mark": {"type": "rule", "color": "black", "strokeWidth": 3}, "encoding": {"y": {"datum": 0}}},
   {"data": {"name": "barsB"}, "mark": {"type": "text", "angle": 270, "fontSize": 16, "fontWeight": "bold", "color": "black", "baseline": "middle", "align": "center"},
    "encoding": {"x": {"field": "pos", "type": "quantitative", "title": null}, "y": {"datum": -21.2}, "text": {"field": "cond"}}},
   {"data": {"name": "barsB"}, "mark": {"type": "bar", "orient": "vertical", "size": 53, "color": "black"},
    "encoding": {"x": {"aggregate": "mean", "field": "pos", "type": "quantitative", "title": null}, "y": {"datum": -33.2}, "y2": {"datum": -35.0}, "detail": {"field": "strain"}}},
   {"data": {"name": "barsB"}, "mark": {"type": "text", "fontSize": 18, "fontWeight": "bold", "color": "black", "baseline": "middle", "align": "center"},
    "encoding": {"x": {"aggregate": "mean", "field": "pos", "type": "quantitative", "title": null}, "y": {"datum": -42.3}, "text": {"field": "strain"}}},
   {"data": {"name": "barsB"}, "mark": {"type": "text", "fontSize": 24, "fontWeight": "bold", "color": "black", "baseline": "middle", "align": "center"},
    "encoding": {"x": {"field": "pos", "type": "quantitative", "title": null}, "y": {"datum": 97}, "text": {"field": "sig"}}}
  ],
  "resolve": {"scale": {"fill": "independent"}}}
 ], "spacing": 155, "bounds": "flush"},
{"spacing": 9, "vconcat": [
 {"hconcat": [
  {"width": 265, "height": 261,
   "title": {"text": "C", "dx": -104, "dy": -8},
   "layer": [
    {"data": {"name": "tbcl"},
     "encoding": {
      "x": {"field": "t", "type": "quantitative", "scale": {"domain": [-20, 86], "nice": false, "zero": false},
        "axis": {"title": "Time after CL (min)", "values": [-10,0,10,20,30,40,50,60,70,80], "tickCount": 30, "format": "d", "labelExpr": "datum.value % 30 === 0 ? datum.label : ''", "labelOverlap": false, "labelFlush": false, "tickSize": 8, "labelPadding": 10, "titlePadding": 9}},
      "y": {"field": "mean", "type": "quantitative", "scale": {"domain": [34, 43], "nice": false, "zero": false},
        "axis": {"title": "Tb (°C)", "values": [34,36,38,40,42], "tickCount": 30, "format": "d", "titleFontSize": 22, "titlePadding": 7, "labelFontSize": 20}},
      "color": {"field": "series", "type": "nominal", "scale": {"domain": ["AJ - WA","AJ - CA","B6 - WA","B6 - CA"], "range": ["#F4817C","#8F8FF4","#EE0C0C","#0C0CEE"]},
        "legend": {"title": null, "legendX": 23, "legendY": -3}}
     },
     "layer": [
      {"mark": {"type": "errorbar", "thickness": 1, "opacity": 0.65}, "encoding": {"yError": {"field": "sem"}}},
      {"mark": {"type": "line", "strokeWidth": 4.5}, "encoding": {"detail": {"field": "seg"}}}
     ]},
    {"data": {"values": [{"x": 0}]},
     "layer": [
      {"mark": {"type": "rule", "strokeWidth": 2.5, "color": "black"}, "encoding": {"x": {"datum": 0}, "y": {"datum": 37.85}, "y2": {"datum": 34.24}}},
      {"mark": {"type": "point", "shape": "M-0.85,-1L0.85,-1L0,1Z", "filled": true, "color": "black", "opacity": 1, "size": 196, "strokeWidth": 0}, "encoding": {"x": {"datum": 0}, "y": {"datum": 34.24}}},
      {"mark": {"type": "text", "text": "CL", "fontSize": 20, "fontWeight": "bold", "color": "black", "baseline": "middle", "align": "center"}, "encoding": {"x": {"datum": 0}, "y": {"datum": 38.26}}}
     ]}
   ]},
  {"width": 175, "height": 264,
   "title": {"text": "D", "dx": -105, "dy": 4},
   "layer": [
    {"data": {"name": "barsD"}, "mark": {"type": "bar", "orient": "vertical", "size": 18, "stroke": "black", "strokeWidth": 3.5},
     "encoding": {
      "x": {"field": "pos", "type": "quantitative", "title": null, "scale": {"domain": [0.37, 5.68], "nice": false, "zero": false}, "axis": {"labels": false, "ticks": false, "domainWidth": 3}},
      "y": {"field": "mean", "type": "quantitative", "title": "Δ Tb (°C)", "scale": {"domain": [-1, 6], "nice": false}, "axis": {"values": [0,2,4,6], "titleFontSize": 22, "titlePadding": 6}},
      "fill": {"field": "group", "type": "nominal", "scale": {"domain": ["AJ - WA","AJ - CA","B6 - WA","B6 - CA"], "range": ["#F4837F","#8E8EF5","#FF0000","#0000FF"]}, "legend": null}}},
    {"data": {"name": "dotsD"}, "mark": {"type": "point", "filled": true, "size": 55, "stroke": "black", "strokeWidth": 1.5, "opacity": 1},
     "encoding": {
      "x": {"field": "x", "type": "quantitative", "title": null},
      "y": {"field": "value", "type": "quantitative", "title": "Δ Tb (°C)"},
      "fill": {"field": "group", "type": "nominal", "scale": {"domain": ["AJ - WA","AJ - CA","B6 - WA","B6 - CA"], "range": ["#EC4A4A","#5E5EEA","#A50F0F","#1E1ECC"]}, "legend": null}}},
    {"data": {"name": "barsD"}, "mark": {"type": "errorbar", "color": "black", "thickness": 3, "ticks": {"size": 10, "thickness": 3, "color": "black"}},
     "encoding": {"x": {"field": "pos", "type": "quantitative", "title": null}, "y": {"field": "mean", "type": "quantitative", "title": "Δ Tb (°C)"}, "yError": {"field": "sem"}}},
    {"data": {"values": [{"y": 0}]}, "mark": {"type": "rule", "color": "black", "strokeWidth": 3}, "encoding": {"y": {"datum": 0}}},
    {"data": {"name": "barsD"}, "mark": {"type": "text", "angle": 270, "fontSize": 16, "fontWeight": "bold", "color": "black", "baseline": "middle", "align": "center"},
     "encoding": {"x": {"field": "pos", "type": "quantitative", "title": null}, "y": {"datum": -1.74}, "text": {"field": "cond"}}},
    {"data": {"name": "barsD"}, "mark": {"type": "bar", "orient": "vertical", "size": 53, "color": "black"},
     "encoding": {"x": {"aggregate": "mean", "field": "pos", "type": "quantitative", "title": null}, "y": {"datum": -2.44}, "y2": {"datum": -2.55}, "detail": {"field": "strain"}}},
    {"data": {"name": "barsD"}, "mark": {"type": "text", "fontSize": 18, "fontWeight": "bold", "color": "black", "baseline": "middle", "align": "center"},
     "encoding": {"x": {"aggregate": "mean", "field": "pos", "type": "quantitative", "title": null}, "y": {"datum": -3.02}, "text": {"field": "strain"}}},
    {"data": {"name": "barsD"}, "mark": {"type": "text", "fontSize": 25, "fontWeight": "bold", "color": "black", "baseline": "middle", "align": "center"},
     "encoding": {"x": {"field": "pos", "type": "quantitative", "title": null}, "y": {"datum": 5.4}, "text": {"field": "sig"}}}
   ],
   "resolve": {"scale": {"fill": "independent"}}}
 ], "spacing": 150, "bounds": "flush"},
 {"hconcat": [
  {"width": 268, "height": 253,
   "title": {"text": "E", "dx": -104, "dy": 16},
   "layer": [
    {"data": {"name": "o2ne"},
     "encoding": {
      "x": {"field": "t", "type": "quantitative", "scale": {"domain": [-23.6, 50.6], "nice": false, "zero": false},
        "axis": {"title": "Time after NE (min)", "values": [-10,0,10,20,30,40], "tickCount": 30, "format": "d", "labelExpr": "datum.value % 30 === 0 ? datum.label : ''", "labelOverlap": false, "domain": false, "tickSize": 8, "labelPadding": 10, "titlePadding": 9, "titleFontSize": 20, "titleX": 140}},
      "y": {"field": "mean", "type": "quantitative", "scale": {"domain": [0, 2.5], "nice": false},
        "axis": {"title": "O₂ consumption (ml/min)", "values": [0,0.5,1,1.5,2,2.5], "tickCount": 30, "format": ".1f", "offset": -13, "titleFontSize": 20, "titlePadding": 7}},
      "color": {"field": "series", "type": "nominal", "scale": {"domain": ["AJ - WA","AJ - CA","B6 - WA","B6 - CA"], "range": ["#F4817C","#8F8FF4","#EE0C0C","#0C0CEE"]},
        "legend": {"title": null, "legendX": 36, "legendY": -3, "labelOffset": 16}}
     },
     "layer": [
      {"mark": {"type": "errorbar", "thickness": 1, "opacity": 0.65}, "encoding": {"yError": {"field": "sem"}}},
      {"mark": {"type": "line", "strokeWidth": 4.5}, "encoding": {"detail": {"field": "seg"}}}
     ]},
    {"data": {"values": [{"x": 0}]},
     "layer": [
      {"mark": {"type": "rule", "strokeWidth": 2.5, "color": "black"}, "encoding": {"x": {"datum": -20}, "x2": {"datum": 50.6}, "y": {"datum": 0}}},
      {"mark": {"type": "rule", "strokeWidth": 2.5, "color": "black"}, "encoding": {"x": {"datum": 0}, "y": {"datum": 1.19}, "y2": {"datum": 0.07}}},
      {"mark": {"type": "point", "shape": "M-0.85,-1L0.85,-1L0,1Z", "filled": true, "color": "black", "opacity": 1, "size": 196, "strokeWidth": 0}, "encoding": {"x": {"datum": 0}, "y": {"datum": 0.07}}},
      {"mark": {"type": "text", "text": "NE", "fontSize": 20, "fontWeight": "bold", "color": "black", "baseline": "middle", "align": "center"}, "encoding": {"x": {"datum": 0}, "y": {"datum": 1.34}}}
     ]}
   ]},
  {"width": 176, "height": 256,
   "title": {"text": "F", "dx": -107, "dy": 27},
   "layer": [
    {"data": {"name": "barsF"}, "mark": {"type": "bar", "orient": "vertical", "size": 18, "stroke": "black", "strokeWidth": 3.5},
     "encoding": {
      "x": {"field": "pos", "type": "quantitative", "title": null, "scale": {"domain": [0.14, 5.69], "nice": false, "zero": false}, "axis": {"labels": false, "ticks": false, "domainWidth": 3}},
      "y": {"field": "mean", "type": "quantitative", "title": "Δ AUC O₂ consumption (ml/h)", "scale": {"domain": [0, 100], "nice": false}, "axis": {"values": [0,20,40,60,80,100], "titleFontSize": 20, "titlePadding": 6}},
      "fill": {"field": "group", "type": "nominal", "scale": {"domain": ["AJ - WA","AJ - CA","B6 - WA","B6 - CA"], "range": ["#F4837F","#8E8EF5","#FF0000","#0000FF"]}, "legend": null}}},
    {"data": {"name": "dotsF"}, "mark": {"type": "point", "filled": true, "size": 55, "stroke": "black", "strokeWidth": 1.5, "opacity": 1},
     "encoding": {
      "x": {"field": "x", "type": "quantitative", "title": null},
      "y": {"field": "value", "type": "quantitative", "title": "Δ AUC O₂ consumption (ml/h)"},
      "fill": {"field": "group", "type": "nominal", "scale": {"domain": ["AJ - WA","AJ - CA","B6 - WA","B6 - CA"], "range": ["#EC4A4A","#5E5EEA","#A50F0F","#1E1ECC"]}, "legend": null}}},
    {"data": {"name": "barsF"}, "mark": {"type": "errorbar", "color": "black", "thickness": 3, "ticks": {"size": 10, "thickness": 3, "color": "black"}},
     "encoding": {"x": {"field": "pos", "type": "quantitative", "title": null}, "y": {"field": "mean", "type": "quantitative", "title": "Δ AUC O₂ consumption (ml/h)"}, "yError": {"field": "sem"}}},
    {"data": {"name": "barsF"}, "mark": {"type": "text", "angle": 270, "fontSize": 16, "fontWeight": "bold", "color": "black", "baseline": "middle", "align": "center"},
     "encoding": {"x": {"field": "pos", "type": "quantitative", "title": null}, "y": {"datum": -10.7}, "text": {"field": "cond"}}},
    {"data": {"name": "barsF"}, "mark": {"type": "bar", "orient": "vertical", "size": 53, "color": "black"},
     "encoding": {"x": {"aggregate": "mean", "field": "pos", "type": "quantitative", "title": null}, "y": {"datum": -21.0}, "y2": {"datum": -22.6}, "detail": {"field": "strain"}}},
    {"data": {"name": "barsF"}, "mark": {"type": "text", "fontSize": 18, "fontWeight": "bold", "color": "black", "baseline": "middle", "align": "center"},
     "encoding": {"x": {"aggregate": "mean", "field": "pos", "type": "quantitative", "title": null}, "y": {"datum": -28.8}, "text": {"field": "strain"}}},
    {"data": {"name": "barsF"}, "mark": {"type": "text", "fontSize": 22, "fontWeight": "bold", "color": "black", "baseline": "middle", "align": "center"},
     "encoding": {"x": {"field": "pos", "type": "quantitative", "title": null}, "y": {"datum": 102.6}, "text": {"field": "sig"}}},
    {"data": {"name": "barsF"}, "mark": {"type": "text", "fontSize": 30, "fontWeight": "bold", "color": "black", "baseline": "middle", "align": "center"},
     "encoding": {"x": {"field": "pos", "type": "quantitative", "title": null}, "y": {"datum": 92.3}, "text": {"field": "sig2"}}}
   ],
   "resolve": {"scale": {"fill": "independent"}}}
 ], "spacing": 147, "bounds": "flush"}
]}
],
"config": {
 "font": "Liberation Sans",
 "view": {"stroke": null},
 "axis": {"grid": false, "domainColor": "black", "domainWidth": 2.5, "tickColor": "black", "tickWidth": 2.5, "labelColor": "black", "labelFont": "Liberation Sans", "labelFontWeight": "bold", "labelFontSize": 19, "titleColor": "black", "titleFont": "Liberation Sans", "titleFontSize": 21},
 "axisX": {"titleFontWeight": "normal"},
 "axisY": {"titleFontWeight": "bold", "tickSize": 10, "labelPadding": 3},
 "title": {"fontSize": 30, "fontWeight": "bold", "anchor": "start", "frame": "group", "color": "black", "offset": 0, "font": "Liberation Sans"},
 "legend": {"orient": "none", "symbolType": "stroke", "symbolStrokeWidth": 5, "symbolSize": 784, "labelFont": "Liberation Sans", "labelFontSize": 17, "labelFontWeight": "bold", "labelColor": "black", "labelOffset": 17, "rowPadding": 2, "padding": 0}
}
}
